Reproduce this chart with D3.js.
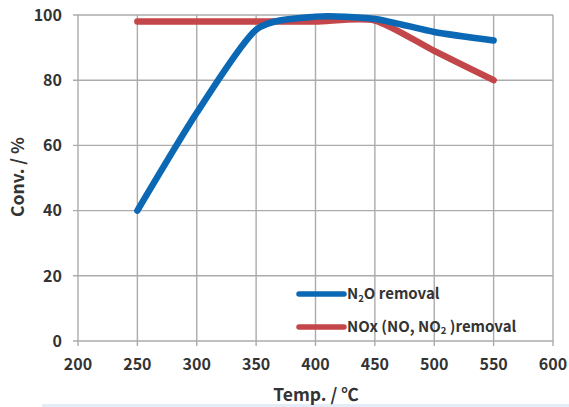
<!DOCTYPE html>
<html><head><meta charset="utf-8">
<script src="https://cdn.jsdelivr.net/npm/d3@7"></script>
<style>
html,body{margin:0;padding:0;background:#fff;}
svg{display:block;}
text{font-family:"Noto Sans CJK KR","Noto Sans",sans-serif;fill:#333;}
</style></head>
<body>
<svg id="chart" width="569" height="407"></svg>
<script>
const temps = [250, 300, 350, 400, 450, 500, 550];
const n2oRemoval = [40, 70, 95.5, 99.5, 98.8, 94.8, 92.2];
const noxRemoval = [98, 98, 98, 98, 98.3, 89, 80];
const xTicks = [200, 250, 300, 350, 400, 450, 500, 550, 600];
const yTicks = [0, 20, 40, 60, 80, 100];

const svg = d3.select("#chart");
const x = d3.scaleLinear().domain([200, 600]).range([78, 553]);
const y = d3.scaleLinear().domain([0, 100]).range([341, 15]);

// bottom light band
svg.append("rect").attr("x", 42).attr("y", 404).attr("width", 527).attr("height", 3).attr("fill", "#e3edf8");

// grid
const grid = svg.append("g").attr("stroke", "#ababab").attr("stroke-width", 1.4);
grid.selectAll("line.v").data(xTicks).enter().append("line")
  .attr("x1", d => x(d)).attr("x2", d => x(d)).attr("y1", y(100)).attr("y2", y(0) + 5);
grid.selectAll("line.h").data(yTicks).enter().append("line")
  .attr("x1", x(200) - 5).attr("x2", x(600)).attr("y1", d => y(d)).attr("y2", d => y(d));

// tick labels
svg.append("g").selectAll("text").data(yTicks).enter().append("text")
  .attr("x", 62).attr("y", d => y(d)).attr("dy", "0.36em").attr("text-anchor", "end")
  .attr("font-size", 16).attr("font-weight", 700).text(d => d);
svg.append("g").selectAll("text").data(xTicks).enter().append("text")
  .attr("x", d => x(d)).attr("y", 364).attr("dy", "0.36em").attr("text-anchor", "middle")
  .attr("font-size", 16).attr("font-weight", 700).text(d => d);

// axis titles
svg.append("text").attr("transform", "translate(18,177) rotate(-90)").attr("text-anchor", "middle")
  .attr("dy", "0.36em").attr("font-size", 17.5).attr("font-weight", 700).attr("fill", "#222").text("Conv. / %");
svg.append("text").attr("x", 316).attr("y", 395).attr("dy", "0.36em").attr("text-anchor", "middle")
  .attr("font-size", 17.5).attr("font-weight", 700).attr("fill", "#222").text("Temp. / ℃");

// lines
const line = d3.line().x(d => x(d[0])).y(d => y(d[1])).curve(d3.curveCardinal.tension(0.3));
const colors = ["#0B68B4", "#C3474A"];
const data = [n2oRemoval, noxRemoval];
svg.append("g").selectAll("path").data([1, 0]).enter().append("path")
  .attr("d", i => line(temps.map((t, j) => [t, data[i][j]])))
  .attr("fill", "none").attr("stroke", i => colors[i]).attr("stroke-width", 6.5)
  .attr("stroke-linecap", "round").attr("stroke-linejoin", "round");

// legend
const lg = svg.append("g");
[294, 327].forEach((ly, i) => {
  lg.append("line").attr("x1", 299).attr("x2", 344).attr("y1", ly).attr("y2", ly)
    .attr("stroke", colors[i]).attr("stroke-width", 5.5).attr("stroke-linecap", "round");
});
const t1 = lg.append("text").attr("x", 347).attr("y", 294).attr("dy", "0.36em").attr("font-size", 15).attr("font-weight", 700);
t1.append("tspan").text("N");
t1.append("tspan").attr("font-size", 9.5).attr("dy", 3).text("2");
t1.append("tspan").attr("dy", -3).text("O removal");
const t2 = lg.append("text").attr("x", 347).attr("y", 327).attr("dy", "0.36em").attr("font-size", 15).attr("font-weight", 700);
t2.append("tspan").text("NOx (NO, NO");
t2.append("tspan").attr("font-size", 9.5).attr("dy", 2).text("2");
t2.append("tspan").attr("dy", -2).text(" )removal");
</script>
</body></html>
